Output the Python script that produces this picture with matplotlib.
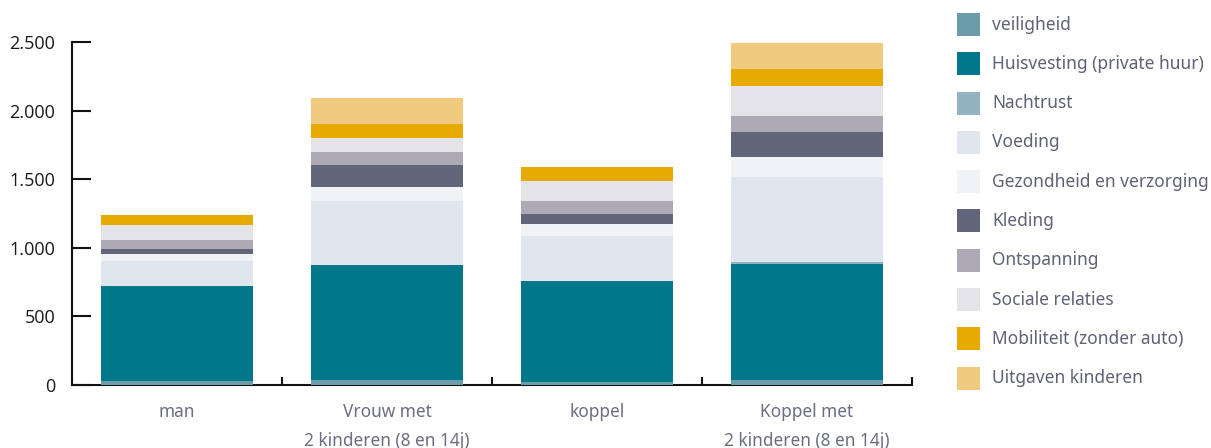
import matplotlib
matplotlib.use("Agg")
import matplotlib.pyplot as plt
import numpy as np
from matplotlib.patches import Rectangle

# ---------------------------------------------------------------------------
# Data (monthly budget per household type, stacked)
# ---------------------------------------------------------------------------
households = ["man", "Vrouw met\n2 kinderen (8 en 14j)", "koppel", "Koppel met\n2 kinderen (8 en 14j)"]

veiligheid = [27, 33, 25, 33]
huisvesting = [696, 843, 734, 850]
nachtrust = [0, 0, 0, 14]
voeding = [182, 465, 327, 618]
gezondheid = [51, 102, 88, 146]
kleding = [36, 159, 72, 181]
ontspanning = [65, 95, 95, 117]
sociale = [109, 102, 145, 218]
mobiliteit = [73, 102, 102, 123]
kinderen = [0, 189, 0, 196]

series = [
    ("veiligheid", veiligheid, "#6b9ca9"),
    ("Huisvesting (private huur)", huisvesting, "#00788a"),
    ("Nachtrust", nachtrust, "#93b3c0"),
    ("Voeding", voeding, "#dfe6ed"),
    ("Gezondheid en verzorging", gezondheid, "#eff3f6"),
    ("Kleding", kleding, "#606579"),
    ("Ontspanning", ontspanning, "#adaab5"),
    ("Sociale relaties", sociale, "#e3e3e8"),
    ("Mobiliteit (zonder auto)", mobiliteit, "#e6aa00"),
    ("Uitgaven kinderen", kinderen, "#f0ca7e"),
]

W, H = 1211, 448
fig = plt.figure(figsize=(W / 100, H / 100), dpi=100)
ax = fig.add_axes([72 / W, 63 / H, 840 / W, 343 / H])

x = np.arange(len(households))
bottom = np.zeros(len(households))
for name, vals, col in series:
    vals = np.array(vals, dtype=float)
    ax.bar(x, vals, bottom=bottom, width=0.724, color=col, linewidth=0, zorder=3)
    bottom += vals

ax.set_xlim(-0.5, 3.5)
ax.set_ylim(0, 2500)

for side in ["top", "right"]:
    ax.spines[side].set_visible(False)
for side in ["left", "bottom"]:
    ax.spines[side].set_linewidth(1.5)
    ax.spines[side].set_color("#111111")

ax.set_yticks([0, 500, 1000, 1500, 2000, 2500])
ax.set_yticklabels(["0", "500", "1.000", "1.500", "2.000", "2.500"],
                   fontfamily="Open Sans", fontsize=13, color="#1a1a1a")
ax.tick_params(axis="y", direction="in", length=14, width=1.5, pad=12, color="#111111")

ax.set_xticks(x)
ax.set_xticklabels(households, fontfamily="Noto Sans", fontsize=12.4, color="#6b6e80",
                   linespacing=1.75)
ax.tick_params(axis="x", which="major", length=0, pad=13)
ax.set_xticks([0.5, 1.5, 2.5, 3.5], minor=True)
ax.tick_params(axis="x", which="minor", direction="in", length=6, width=1.5, color="#111111")

# Legend (manual, in figure pixels)
for i, (name, vals, col) in enumerate(series):
    yc = H - (24.5 + i * 39.3)
    fig.patches.append(Rectangle((957 / W, (yc - 11.5) / H), 23 / W, 23 / H,
                                 transform=fig.transFigure, facecolor=col, linewidth=0))
    fig.text(992 / W, yc / H, name, fontfamily="Noto Sans", fontsize=12.5,
             color="#5f6275", va="center", ha="left")

fig.savefig("out.png", dpi=100)
